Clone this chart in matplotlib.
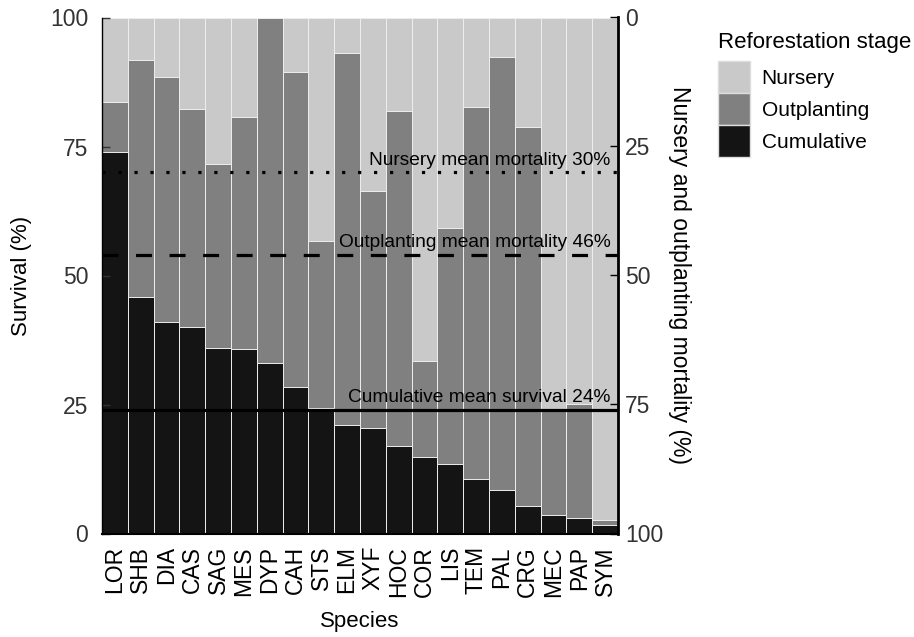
import numpy as np
import matplotlib
matplotlib.use("Agg")
import matplotlib.pyplot as plt
from matplotlib.patches import Patch

plt.rcParams['font.family'] = ['Liberation Sans', 'DejaVu Sans']

# Species ordered by cumulative survival
species = ["LOR", "SHB", "DIA", "CAS", "SAG", "MES", "DYP", "CAH", "STS", "ELM",
           "XYF", "HOC", "COR", "LIS", "TEM", "PAL", "CRG", "MEC", "PAP", "SYM"]

# survival after nursery stage (%), top of the mid-gray bars
nursery_surv = [83.6, 91.8, 88.5, 82.2, 71.7, 80.8, 100.0, 89.4, 56.6, 93.1,
                66.4, 81.9, 33.4, 59.3, 82.6, 92.3, 78.8, 23.8, 25.1, 2.6]
# cumulative survival (%), black bars
cumulative_surv = [74.0, 45.9, 41.0, 40.0, 36.0, 35.7, 33.0, 28.3, 24.4, 21.1,
                   20.5, 16.9, 14.8, 13.4, 10.6, 8.4, 5.4, 3.5, 3.0, 1.7]

nursery_mean_mort = 30
outplanting_mean_mort = 46
cumulative_mean_surv = 24

c_nursery = "#c9c9c9"
c_outpl = "#808080"
c_cum = "#141414"

x = np.arange(len(species))

fig = plt.figure(figsize=(9.14, 6.37), dpi=100)
ax = fig.add_axes([102 / 914, 1 - 533.5 / 637, 516 / 914, 516 / 637])

ax.bar(x, np.full(len(species), 100.0), width=1, color=c_nursery, edgecolor="#eeeeee", linewidth=0.7)
ax.bar(x, nursery_surv, width=1, color=c_outpl, edgecolor="#eeeeee", linewidth=0.7)
ax.bar(x, cumulative_surv, width=1, color=c_cum, edgecolor="#eeeeee", linewidth=0.7)

# mean reference lines
ax.axhline(100 - nursery_mean_mort, color="black", lw=2.3, ls=(0, (1, 4.0)))
ax.axhline(100 - outplanting_mean_mort, color="black", lw=2.3, ls=(0, (5, 5.5)))
ax.axhline(cumulative_mean_surv, color="black", lw=2.3)

txt_x = len(species) - 0.8
ax.text(txt_x, 100 - nursery_mean_mort + 1.5, "Nursery mean mortality %d%%" % nursery_mean_mort,
        ha="right", va="baseline", fontsize=13.8)
ax.text(txt_x, 100 - outplanting_mean_mort + 1.5, "Outplanting mean mortality %d%%" % outplanting_mean_mort,
        ha="right", va="baseline", fontsize=13.8)
ax.text(txt_x, cumulative_mean_surv + 1.5, "Cumulative mean survival %d%%" % cumulative_mean_surv,
        ha="right", va="baseline", fontsize=13.8)

ax.set_xlim(-0.5, len(species) - 0.5)
ax.set_ylim(0, 100)
ax.set_yticks([0, 25, 50, 75, 100])
ax.set_xticks(x)
ax.set_xticklabels(species, rotation=90, fontsize=16.5)
ax.tick_params(axis="x", length=0, pad=9)
ax.tick_params(axis="y", direction="in", length=6, width=1, color="#333333", labelsize=16.5, pad=10, labelcolor="#333333")
ax.spines["top"].set_visible(False)
ax.spines["right"].set_visible(False)
ax.spines["left"].set_linewidth(1)
ax.spines["bottom"].set_linewidth(1.5)

ax.set_ylabel("Survival (%)", fontsize=16)
ax.yaxis.set_label_coords((22 - 102) / 516, 0.5)
ax.set_xlabel("Species", fontsize=16)
ax.xaxis.set_label_coords(0.5, (533.5 - 622) / 516)
ax.xaxis.label.set_va("center")
ax.yaxis.label.set_va("center")

ax2 = ax.twinx()
ax2.set_ylim(100, 0)
ax2.set_yticks([0, 25, 50, 75, 100])
ax2.tick_params(axis="y", direction="in", length=6, width=1, labelsize=16.5, pad=5, labelcolor="#333333")
ax2.spines["top"].set_visible(False)
ax2.spines["left"].set_visible(False)
ax2.spines["bottom"].set_visible(False)
ax2.spines["right"].set_linewidth(2)
ax2.set_ylabel("Nursery and outplanting mortality (%)", fontsize=16.5, rotation=270, va="center", ha="center")
ax2.yaxis.set_label_coords((680 - 102) / 516, 0.5)

handles = [Patch(facecolor=c_nursery, edgecolor="#dddddd", label="Nursery"),
           Patch(facecolor=c_outpl, edgecolor="#dddddd", label="Outplanting"),
           Patch(facecolor=c_cum, edgecolor="#dddddd", label="Cumulative")]
leg = fig.legend(handles=handles, title="Reforestation stage", loc="upper left",
                 bbox_to_anchor=(718 / 914, 1 - 32 / 637), frameon=False, fontsize=15, title_fontsize=16,
                 handlelength=1.54, handleheight=1.99, labelspacing=0, handletextpad=0.55,
                 borderpad=0, borderaxespad=0, alignment="left")
leg._legend_box.sep = 6

fig.savefig("out.png", dpi=100)
